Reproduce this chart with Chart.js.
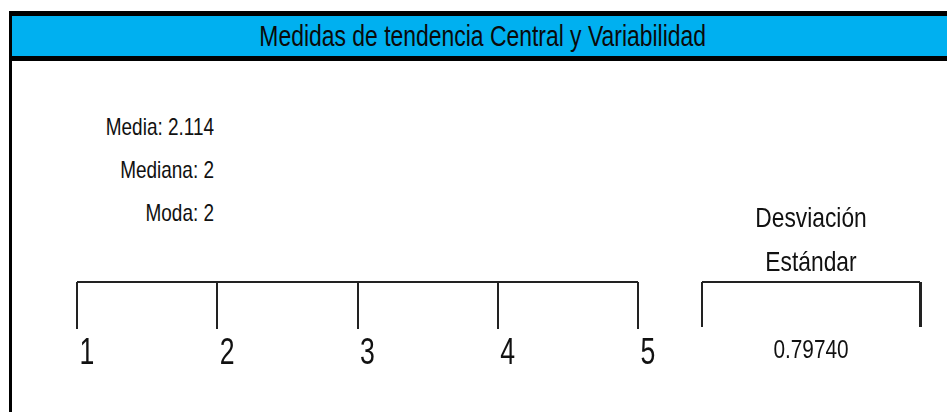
<!DOCTYPE html>
<html lang="es">

<head>
    <meta charset="UTF-8">
    <title>Medidas de tendencia Central y Variabilidad</title>
    <style>
        body {
            margin: 0;
            width: 947px;
            height: 412px;
            overflow: hidden;
            background: #fff;
            position: relative;
            font-family: 'Liberation Sans', Arial, sans-serif;
            color: #111;
        }

        .frame {
            position: absolute;
            left: 9px;
            top: 11px;
            width: 960px;
            height: 420px;
            border-left: 3px solid #000;
        }

        .header {
            position: absolute;
            left: 9px;
            top: 11px;
            width: 942px;
            height: 40px;
            background: #00b0f0;
            border-top: 5px solid #000;
            border-bottom: 5px solid #000;
            border-left: 3px solid #000;
            text-align: center;
            font-size: 29px;
            line-height: 40px;
            color: #0a0a0a;
        }

        .header span {
            display: inline-block;
            transform: scaleX(0.79);
        }

        .stats {
            position: absolute;
            left: 0;
            top: 105px;
            width: 214px;
            text-align: right;
            font-size: 24px;
            line-height: 43px;
        }

        .stats div {
            transform: scaleX(0.79);
            transform-origin: right center;
        }

        canvas {
            position: absolute;
            left: 0;
            top: 0;
        }
    </style>
</head>

<body>
    <div class="frame"></div>
    <div class="header"><span>Medidas de tendencia Central y Variabilidad</span></div>
    <div class="stats" id="stats"></div>
    <canvas id="scaleChart" width="947" height="412"></canvas>
    <canvas id="sdChart" width="947" height="412"></canvas>

    <script src="https://cdn.jsdelivr.net/npm/chart.js"></script>
    <script>
        // Escala de respuestas y estadisticos
        const scaleValues = [1, 2, 3, 4, 5];
        const statNames = ['Media', 'Mediana', 'Moda'];
        const statValues = ['2.114', '2', '2'];
        const sdTitle = ['Desviación', 'Estándar'];
        const sdValue = '0.79740';

        const font = "'Liberation Sans', Arial, sans-serif";
        const ink = '#222';

        document.getElementById('stats').innerHTML = statNames
            .map((n, i) => `<div>${n}: ${statValues[i]}</div>`).join('');

        // texto estrecho tipo Arial Narrow
        function narrowCtx(id, k) {
            const ctx = document.getElementById(id).getContext('2d');
            const fill = ctx.fillText;
            ctx.fillText = function (text, x, y) {
                this.save();
                this.translate(x, y);
                this.scale(k, 1);
                fill.call(this, text, 0, 0);
                this.restore();
            };
            return ctx;
        }

        // Escala 1 - 5
        new Chart(narrowCtx('scaleChart', 0.74), {
            type: 'line',
            data: {
                datasets: [{
                    data: [
                        { x: scaleValues[0], y: 1 },
                        { x: scaleValues[scaleValues.length - 1], y: 1 }
                    ],
                    borderColor: ink,
                    borderWidth: 2,
                    pointRadius: 0,
                    clip: false
                }]
            },
            options: {
                responsive: false,
                animation: false,
                events: [],
                layout: { padding: { top: 282, left: 77, right: 309, bottom: 36 } },
                plugins: { legend: { display: false }, tooltip: { enabled: false } },
                scales: {
                    x: {
                        type: 'linear',
                        min: scaleValues[0],
                        max: scaleValues[scaleValues.length - 1],
                        afterBuildTicks: s => { s.ticks = scaleValues.map(v => ({ value: v })); },
                        border: { display: false },
                        grid: { color: ink, lineWidth: 2, drawTicks: false },
                        ticks: {
                            color: '#111',
                            font: { family: font, size: 36 },
                            padding: 3,
                            labelOffset: 10,
                            maxRotation: 0
                        }
                    },
                    y: { display: false, min: 0, max: 1 }
                }
            }
        });

        // Desviacion estandar
        new Chart(narrowCtx('sdChart', 0.8), {
            type: 'line',
            data: {
                datasets: [{
                    data: [{ x: 0, y: 1 }, { x: 1, y: 1 }],
                    borderColor: ink,
                    borderWidth: 2,
                    pointRadius: 0,
                    clip: false
                }]
            },
            options: {
                responsive: false,
                animation: false,
                events: [],
                layout: { padding: { top: 194, left: 702, right: 27, bottom: 38 } },
                plugins: {
                    legend: { display: false },
                    tooltip: { enabled: false },
                    title: {
                        display: true,
                        fullSize: false,
                        text: sdTitle,
                        color: '#111',
                        font: { family: font, size: 28.5, weight: 'normal', lineHeight: '44px' },
                        padding: { top: 3, bottom: -3 }
                    }
                },
                scales: {
                    x: {
                        type: 'linear',
                        min: 0,
                        max: 1,
                        afterBuildTicks: s => { s.ticks = [0, 0.5, 1].map(v => ({ value: v })); },
                        border: { display: false },
                        grid: {
                            color: c => (c.tick && c.tick.value === 0.5) ? 'rgba(0,0,0,0)' : ink,
                            lineWidth: c => (c.tick && c.tick.value === 1) ? 3 : 2,
                            drawTicks: false
                        },
                        ticks: {
                            color: '#111',
                            font: { family: font, size: 26 },
                            padding: 8,
                            maxRotation: 0,
                            autoSkip: false,
                            callback: v => v === 0.5 ? sdValue : ''
                        }
                    },
                    y: { display: false, min: 0, max: 1 }
                }
            }
        });
    </script>
</body>

</html>
